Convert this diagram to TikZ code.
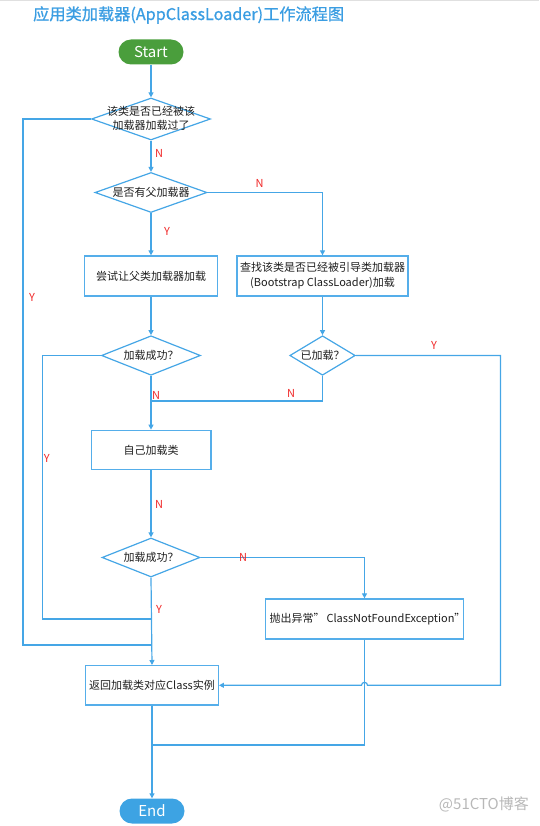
\documentclass[tikz,border=0pt]{standalone}
\usepackage{fontspec}
\newfontfamily\cjk{Noto Sans CJK SC}
\newfontfamily\cjktitle[FakeBold=0.9]{Noto Sans CJK SC}
\usetikzlibrary{shapes.geometric,arrows.meta}
\definecolor{lineblue}{HTML}{45A6E6}
\definecolor{boxblue}{HTML}{55AEEA}
\definecolor{titleblue}{HTML}{3A9DE2}
\definecolor{startgreen}{HTML}{4A9E3C}
\definecolor{endblue}{HTML}{3DA3E3}
\definecolor{labelred}{HTML}{F02828}
\definecolor{txtgray}{HTML}{1E1E1E}
\begin{document}
\begin{tikzpicture}[x=1pt,y=-1pt,
  conn/.style={draw=lineblue, line width=1.2pt},
  arr/.style={conn, -{Triangle[width=5pt,length=5pt]}},
  dia/.style={shape=diamond, draw=lineblue, line width=1.2pt, inner sep=0pt, fill=white},
  dtext/.style={inner sep=0pt, align=center, text=txtgray, font=\cjk\fontsize{11}{14}\selectfont},
  rect/.style={draw=boxblue, line width=1.3pt, inner sep=0pt, minimum height=40pt, align=center, text=txtgray, font=\cjk\fontsize{11}{15}\selectfont},
  term/.style={rounded corners=12.5pt, minimum width=65pt, minimum height=25pt, inner sep=0pt, text=white, font=\cjk\fontsize{15}{16}\selectfont},
  yn/.style={inner sep=0pt, text=labelred, font=\cjk\fontsize{11}{12}\selectfont}
]
\useasboundingbox (0,0) rectangle (539,826);
\fill[black!12] (0,0) rectangle (539,1.5);

\node[inner sep=0pt, anchor=west, text=titleblue, font=\cjktitle\fontsize{16.2}{18}\selectfont] (title) at (33,15) {应用类加载器(AppClassLoader)工作流程图};

\node[term, fill=startgreen] (start) at (151,52) {Start};

\node[dia, minimum width=119pt, minimum height=42pt] (d1) at (151,119) {};
\node[dtext] (d1t) at (151,118) {该类是否已经被该\\加载器加载过了};

\node[dia, minimum width=112pt, minimum height=40pt] (d2) at (151,192.5) {};
\node[dtext] (d2t) at (151,192.5) {是否有父加载器};

\node[rect, minimum width=132.6pt] (ba) at (151,276) {尝试让父类加载器加载};
\node[rect, minimum width=171.2pt] (bb) at (322.5,276) {查找该类是否已经被引导类加载器\\(Bootstrap ClassLoader)加载};

\node[dia, minimum width=99pt, minimum height=39.5pt] (d3) at (151,355.5) {};
\node[dtext] (d3t) at (151,355.5) {加载成功？};

\node[dia, minimum width=65.5pt, minimum height=39.5pt] (d4) at (322.5,355.5) {};
\node[dtext] (d4t) at (322.5,355.5) {已加载？};

\node[rect, minimum width=119.7pt, minimum height=39.4pt] (bc) at (151,450) {自己加载类};

\node[dia, minimum width=98pt, minimum height=39pt] (d5) at (151,557.5) {};
\node[dtext] (d5t) at (151,557.5) {加载成功？};

\node[rect, minimum width=197.6pt] (exc) at (364.5,619) {};
\node[dtext, anchor=west] (exct) at (269.5,619) {抛出异常”\,ClassNotFoundException”};

\node[rect, minimum width=132.6pt, minimum height=39.3pt] (be) at (152,685.3) {返回加载类对应Class实例};

\node[term, fill=endblue] (end) at (152,811) {End};

\node[inner sep=0pt, anchor=east, text=black!28, font=\cjk\fontsize{15}{16}\selectfont] (wm) at (529,804) {@51CTO博客};

% coordinates
\coordinate (L1) at (23,645);
\coordinate (L2) at (42.3,619);
\coordinate (j1) at (151,645);
\coordinate (j2) at (151,619);
\coordinate (j3) at (151,401);
\coordinate (j4) at (151,745);
\coordinate (R1) at (500.5,685.3);
\coordinate (hop) at (364.5,685.3);

% connectors
\draw[arr] (start) -- (d1);
\draw[arr] (d1) -- (d2);
\draw[arr] (d2) -- (ba);
\draw[arr] (d2.east) -| (bb.north);
\draw[arr] (ba) -- (d3);
\draw[arr] (bb) -- (d4);
\draw[arr] (d3) -- (bc);
\draw[conn] (d4.south) |- (j3);
\draw[arr] (bc) -- (d5);
\draw[arr] (d5.east) -| (exc.north);
\draw[arr] (d5.south) -- (be.north);
\draw[conn] (d1.west) -| (L1) -- (j1);
\draw[conn] (d3.west) -| (L2) -- (j2);
\draw[conn] (exc.south) |- (j4);
\draw[arr] (d4.east) -| (R1) -- ([xshift=3pt]hop) arc[start angle=0,end angle=180,radius=3pt] -- (be.east);
\draw[arr] (be) -- (end);

% labels
\node[yn] (n1) at (159,153) {N};
\node[yn] (n2) at (259.6,183) {N};
\node[yn] (y1) at (167,231) {Y};
\node[yn] (y2) at (32,297) {Y};
\node[yn] (y3) at (434,345) {Y};
\node[yn] (n3) at (291,393) {N};
\node[yn] (n4) at (156,395) {N};
\node[yn] (y4) at (46.7,458) {Y};
\node[yn] (n5) at (159,504) {N};
\node[yn] (n6) at (243,557) {N};
\node[yn] (y5) at (159,609) {Y};
\end{tikzpicture}
\end{document}
